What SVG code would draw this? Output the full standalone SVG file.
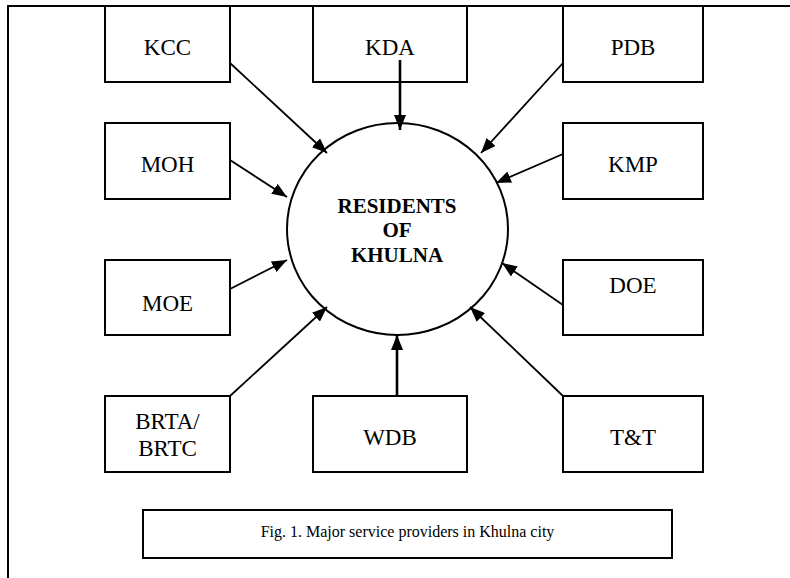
<svg xmlns="http://www.w3.org/2000/svg" width="790" height="578" viewBox="0 0 790 578">
<style>
.box{fill:#fff;stroke:#000;stroke-width:2}
text{font-family:'Liberation Serif','Times New Roman',serif;fill:#000;text-anchor:middle}
.lbl{font-size:23px}
.ctr{font-size:21px;font-weight:bold}
.cap{font-size:16px}
.c{stroke:#000;stroke-width:1.8;fill:none;marker-end:url(#ah)}
.t{stroke-width:2.6}
</style>
<defs>
<marker id="ah" markerUnits="userSpaceOnUse" markerWidth="15" markerHeight="12" refX="15" refY="6" orient="auto">
<path d="M0,0 L15,6 L0,12 z" fill="#000"/>
</marker>
</defs>
<g id="frame" stroke="#000" stroke-width="2" fill="none">
<line x1="8" y1="6" x2="790" y2="6"/>
<line x1="8" y1="5" x2="8" y2="578"/>
</g>
<g id="center">
<ellipse cx="397.5" cy="229" rx="110.5" ry="106" fill="#fff" stroke="#000" stroke-width="2"/>
<text class="ctr" x="397" y="212.7">RESIDENTS</text>
<text class="ctr" x="397" y="237">OF</text>
<text class="ctr" x="397" y="261.7">KHULNA</text>
</g>
<g id="KCC"><rect class="box" x="105" y="6" width="125" height="76"/><text class="lbl" x="167.5" y="55">KCC</text></g>
<g id="KDA"><rect class="box" x="313" y="6" width="154" height="76"/><text class="lbl" x="390" y="55">KDA</text></g>
<g id="PDB"><rect class="box" x="563" y="6" width="140" height="76"/><text class="lbl" x="633" y="55">PDB</text></g>
<g id="MOH"><rect class="box" x="105" y="123" width="125" height="76"/><text class="lbl" x="167.5" y="172">MOH</text></g>
<g id="KMP"><rect class="box" x="563" y="123" width="140" height="76"/><text class="lbl" x="633" y="172">KMP</text></g>
<g id="MOE"><rect class="box" x="105" y="260" width="125" height="75"/><text class="lbl" x="167.5" y="311">MOE</text></g>
<g id="DOE"><rect class="box" x="563" y="260" width="140" height="75"/><text class="lbl" x="633" y="293">DOE</text></g>
<g id="BRTA"><rect class="box" x="105" y="396" width="125" height="76"/><text class="lbl" x="167.5" y="429">BRTA/</text><text class="lbl" x="167.5" y="456">BRTC</text></g>
<g id="WDB"><rect class="box" x="313" y="396" width="154" height="76"/><text class="lbl" x="390" y="445">WDB</text></g>
<g id="TT"><rect class="box" x="563" y="396" width="140" height="76"/><text class="lbl" x="633" y="445">T&amp;T</text></g>
<g id="caption"><rect class="box" x="143" y="510" width="529" height="48"/><text class="cap" x="407.5" y="536.7">Fig. 1. Major service providers in Khulna city</text></g>
<g id="connectors">
<line class="c" x1="230" y1="63" x2="327" y2="153"/>
<line class="c t" x1="400" y1="60" x2="400" y2="130"/>
<line class="c" x1="563" y1="63" x2="481" y2="153"/>
<line class="c" x1="230" y1="160" x2="287" y2="197"/>
<line class="c" x1="563" y1="154" x2="496" y2="183"/>
<line class="c" x1="230" y1="289" x2="287" y2="260"/>
<line class="c" x1="563" y1="305" x2="502" y2="263"/>
<line class="c" x1="230" y1="396" x2="327" y2="307"/>
<line class="c t" x1="397" y1="396" x2="397" y2="335"/>
<line class="c" x1="563" y1="396" x2="470" y2="307"/>
</g>
</svg>
